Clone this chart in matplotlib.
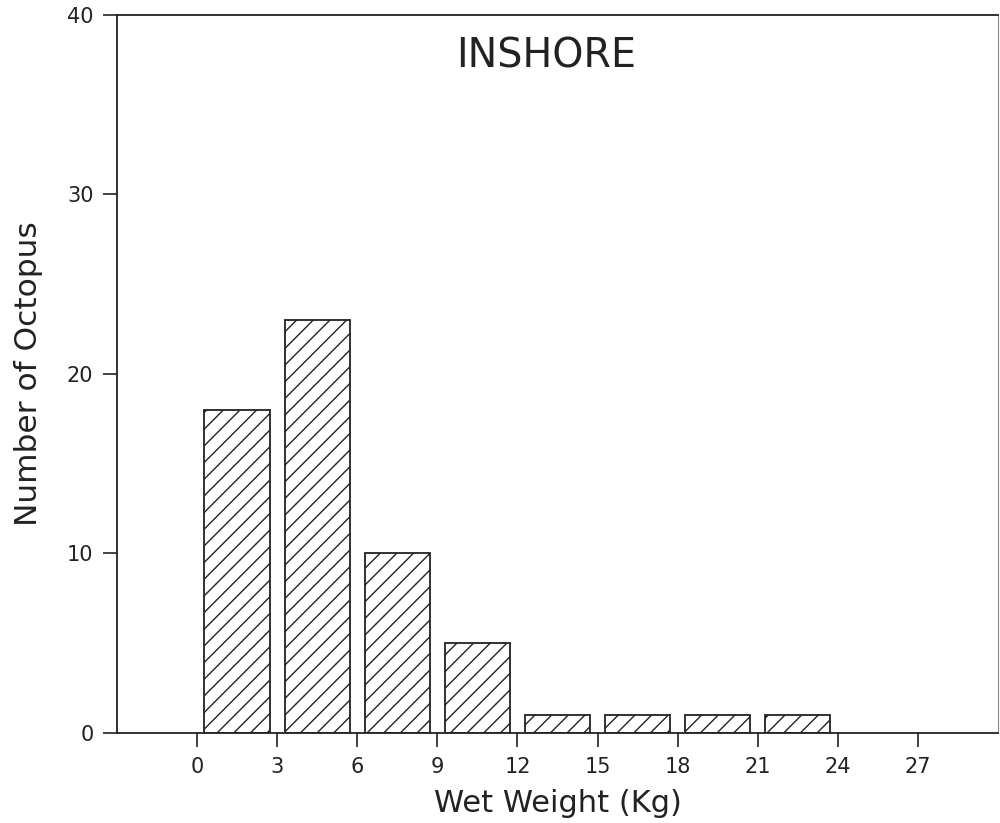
import matplotlib.pyplot as plt

bin_centers = [1.5, 4.5, 7.5, 10.5, 13.5, 16.5, 19.5, 22.5]
counts = [18, 23, 10, 5, 1, 1, 1, 1]
xticks = [0, 3, 6, 9, 12, 15, 18, 21, 24, 27]
yticks = [0, 10, 20, 30, 40]

plt.rcParams['hatch.linewidth'] = 1.0
fig = plt.figure(figsize=(10, 8.23), dpi=100)
ax = fig.add_axes([0.117, 0.1094, 0.881, 0.8724])

ax.bar(bin_centers, counts, width=2.45, color="white", edgecolor="#222222",
       hatch="//", linewidth=1.3)

ax.set_xlim(-3, 30)
ax.set_ylim(0, 40)
ax.set_xticks(xticks)
ax.set_yticks(yticks)
ax.tick_params(direction="out", length=10, width=1.2, labelsize=15,
               colors="#222222", pad=7)
for side in ["left", "bottom", "top"]:
    ax.spines[side].set_linewidth(1.3)
    ax.spines[side].set_color("#222222")
ax.spines["right"].set_linewidth(0.8)
ax.spines["right"].set_color("#888888")

ax.set_xlabel("Wet Weight (Kg)", fontsize=22, color="#222222", labelpad=9)
ax.set_ylabel("Number of Octopus", fontsize=22.5, color="#222222", labelpad=17)
ax.text(0.487, 0.942, "INSHORE", transform=ax.transAxes, fontsize=28.5,
        ha="center", va="center", color="#222222")

fig.savefig("out.png", dpi=100)
